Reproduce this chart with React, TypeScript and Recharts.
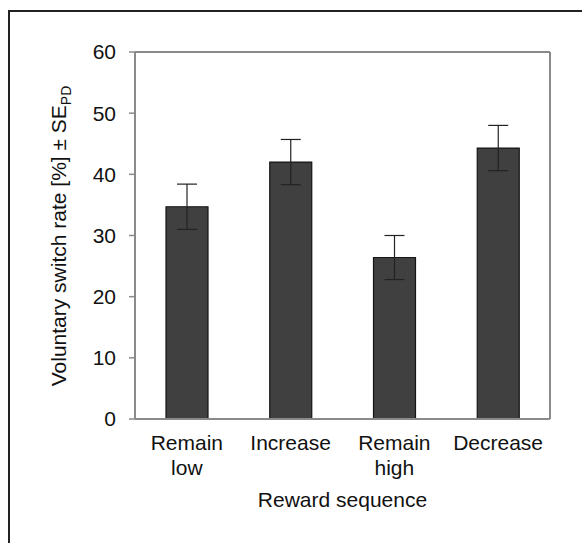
import { Bar, ComposedChart, ErrorBar, Line, ReferenceLine, XAxis, YAxis } from 'recharts';

// Voluntary switch rate per reward sequence
const categories = ['Remain low', 'Increase', 'Remain high', 'Decrease'];
const switchRates = [34.7, 42.0, 26.4, 44.3];
const standardErrors = [3.7, 3.7, 3.6, 3.7];
const yTicks = [0, 10, 20, 30, 40, 50, 60];
const yMax = 60;

const data = categories.map((name, i) => ({
  name,
  rate: switchRates[i],
  se: standardErrors[i],
}));

const FONT = '"Liberation Sans", Arial, sans-serif';
const AXIS_GRAY = '#8a8a8a';

function CategoryTick({ x, y, payload }: any) {
  const lines = String(payload.value).split(' ');
  return (
    <text x={x} y={y} textAnchor="middle" fill="#111" fontSize={21} fontFamily={FONT}>
      {lines.map((line, i) => (
        <tspan key={line} x={x} dy={i === 0 ? 31 : 25}>
          {line}
        </tspan>
      ))}
    </text>
  );
}

function YTitle() {
  return (
    <text
      x={66}
      y={236}
      transform="rotate(-90, 66, 236)"
      textAnchor="middle"
      fill="#111"
      fontSize={21}
      fontFamily={FONT}
    >
      Voluntary switch rate [%] ± SE
      <tspan fontSize={14} dy={5}>PD</tspan>
    </text>
  );
}

export default function App() {
  return (
    <div
      style={{
        position: 'absolute',
        left: 0,
        top: 0,
        width: 582,
        height: 543,
        overflow: 'hidden',
        background: '#fff',
      }}
    >
      <div
        style={{
          position: 'absolute',
          left: 8,
          top: 10,
          width: 700,
          height: 700,
          borderLeft: '2px solid #222',
          borderTop: '2px solid #222',
        }}
      />
      <div style={{ position: 'absolute', left: 0, top: 0 }}>
        <ComposedChart
          width={582}
          height={543}
          data={data}
          margin={{ top: 52, right: 31, bottom: 0, left: 0 }}
        >
          <XAxis
            dataKey="name"
            height={124}
            tick={<CategoryTick />}
            tickLine={false}
            tickSize={0}
            tickMargin={0}
            interval={0}
            axisLine={{ stroke: AXIS_GRAY, strokeWidth: 2 }}
            label={{
              value: 'Reward sequence',
              position: 'insideBottom',
              offset: 36,
              fill: '#111',
              fontSize: 21,
              fontFamily: FONT,
            }}
          />
          <YAxis
            width={135}
            domain={[0, yMax]}
            ticks={yTicks}
            interval={0}
            tickSize={6}
            tickMargin={13}
            tickLine={{ stroke: AXIS_GRAY, strokeWidth: 1.5 }}
            axisLine={{ stroke: AXIS_GRAY, strokeWidth: 2 }}
            tick={{ fill: '#111', fontSize: 21, fontFamily: FONT }}
            label={{ content: () => <YTitle /> }}
          />
          {/* right edge of the plot box */}
          <YAxis
            yAxisId="right"
            orientation="right"
            width={1}
            domain={[0, yMax]}
            tick={false}
            tickLine={false}
            axisLine={{ stroke: AXIS_GRAY, strokeWidth: 2 }}
          />
          {/* top edge of the plot box */}
          <ReferenceLine y={yMax} stroke={AXIS_GRAY} strokeWidth={2} />
          <Bar
            dataKey="rate"
            fill="#404040"
            stroke="#151515"
            strokeWidth={1.2}
            barSize={42}
            isAnimationActive={false}
          >
            <ErrorBar dataKey="se" width={10} stroke="#222" strokeWidth={1.2} />
          </Bar>
          <Line
            yAxisId="right"
            dataKey="rate"
            stroke="none"
            dot={false}
            activeDot={false}
            legendType="none"
            isAnimationActive={false}
          />
        </ComposedChart>
      </div>
    </div>
  );
}
